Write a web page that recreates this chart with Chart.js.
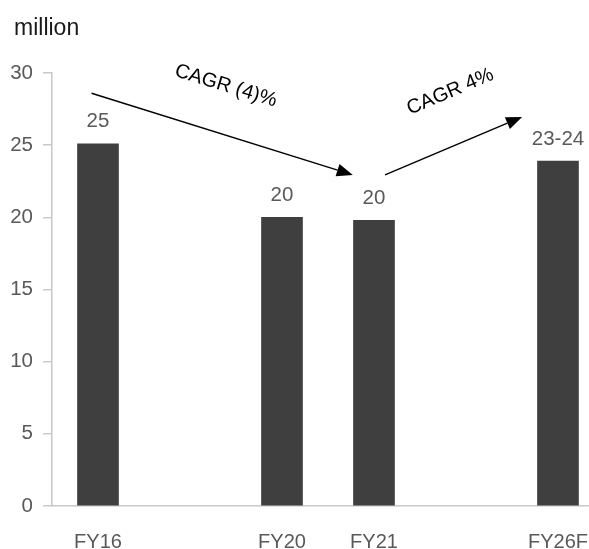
<!DOCTYPE html>
<html>
<head>
<meta charset="utf-8">
<script src="https://cdn.jsdelivr.net/npm/chart.js@4/dist/chart.umd.min.js"></script>
<style>
  html, body { margin: 0; padding: 0; background: #fff; overflow: hidden; width: 589px; height: 549px; }
  #wrap { position: relative; width: 606px; height: 549px; }
</style>
</head>
<body>
<div id="wrap"><canvas id="c"></canvas></div>
<script>
// ---- data ----
const categories = ['FY16', '', 'FY20', 'FY21', '', 'FY26F'];
const values = [25.1, null, 20.0, 19.8, null, 23.9];
const valueLabels = ['25', '', '20', '20', '', '23-24'];
const yTicks = [0, 5, 10, 15, 20, 25, 30];
const unitLabel = 'million';
// CAGR arrows in data units
const arrowFrom = [[-0.07, 28.6], [3.12, 22.94]];
const arrowTo = [[2.77, 22.94], [4.61, 26.96]];
const cagrTexts = ['CAGR (4)%', 'CAGR 4%'];
const cagrPos = [[1.39, 29.1], [3.83, 28.7]];
const cagrAngle = [17, -23];

const FONT = "'Liberation Sans', Arial, sans-serif";
const GREY = '#595959';

const overlay = {
  id: 'overlay',
  afterDraw(chart) {
    const ctx = chart.ctx;
    const xs = chart.scales.x, ys = chart.scales.y;
    ctx.save();
    // unit label
    ctx.fillStyle = '#1a1a1a';
    ctx.font = '23px ' + FONT;
    ctx.textAlign = 'left';
    ctx.textBaseline = 'alphabetic';
    ctx.fillText(unitLabel, 14, 35);
    // value labels
    ctx.fillStyle = GREY;
    ctx.font = '20.5px ' + FONT;
    ctx.textAlign = 'center';
    ctx.textBaseline = 'middle';
    const meta = chart.getDatasetMeta(0);
    meta.data.forEach((bar, i) => {
      if (values[i] == null) return;
      ctx.fillText(valueLabels[i], bar.x, bar.y - 22);
    });
    // arrows
    ctx.strokeStyle = '#000';
    ctx.fillStyle = '#000';
    ctx.lineWidth = 1.5;
    arrowFrom.forEach((a, i) => {
      const x0 = xs.getPixelForValue(a[0]), y0 = ys.getPixelForValue(a[1]);
      const x1 = xs.getPixelForValue(arrowTo[i][0]), y1 = ys.getPixelForValue(arrowTo[i][1]);
      const ang = Math.atan2(y1 - y0, x1 - x0);
      const hl = 16, hw = 6.5;
      const bx = x1 - hl * Math.cos(ang), by = y1 - hl * Math.sin(ang);
      ctx.beginPath();
      ctx.moveTo(x0, y0);
      ctx.lineTo(bx, by);
      ctx.stroke();
      ctx.beginPath();
      ctx.moveTo(x1, y1);
      ctx.lineTo(bx + hw * Math.sin(ang), by - hw * Math.cos(ang));
      ctx.lineTo(bx - hw * Math.sin(ang), by + hw * Math.cos(ang));
      ctx.closePath();
      ctx.fill();
    });
    // CAGR texts
    ctx.font = '20px ' + FONT;
    ctx.textAlign = 'center';
    ctx.textBaseline = 'middle';
    cagrTexts.forEach((t, i) => {
      const x = xs.getPixelForValue(cagrPos[i][0]), y = ys.getPixelForValue(cagrPos[i][1]);
      ctx.save();
      ctx.translate(x, y);
      ctx.rotate(cagrAngle[i] * Math.PI / 180);
      ctx.fillText(t, 0, 0);
      ctx.restore();
    });
    ctx.restore();
  }
};

new Chart(document.getElementById('c'), {
  type: 'bar',
  data: {
    labels: categories,
    datasets: [{
      data: values,
      backgroundColor: '#3f3f3f',
      barThickness: 41
    }]
  },
  options: {
    responsive: true,
    maintainAspectRatio: false,
    animation: false,
    layout: { padding: { left: 0, right: 0, top: 73, bottom: 0 } },
    plugins: { legend: { display: false }, tooltip: { enabled: false } },
    scales: {
      x: {
        offset: true,
        grid: { display: true, drawOnChartArea: false, drawTicks: true, tickLength: 6, color: 'rgba(0,0,0,0)' },
        border: { display: true, color: '#c8c8c8', width: 1.5 },
        ticks: { color: GREY, font: { size: 20, family: FONT }, padding: 18, maxRotation: 0, autoSkip: false },
        afterFit(s) { s.height = 43; }
      },
      y: {
        min: 0, max: 30,
        afterBuildTicks(s) { s.ticks = yTicks.map(v => ({ value: v })); },
        grid: { display: true, drawOnChartArea: false, drawTicks: true, tickLength: 9, color: '#c8c8c8', lineWidth: 1.5 },
        border: { display: true, color: '#c8c8c8', width: 1.5 },
        ticks: { color: GREY, font: { size: 20.5, family: FONT }, padding: 10 },
        afterFit(s) { s.width = 52; }
      }
    }
  },
  plugins: [overlay]
});
</script>
</body>
</html>
